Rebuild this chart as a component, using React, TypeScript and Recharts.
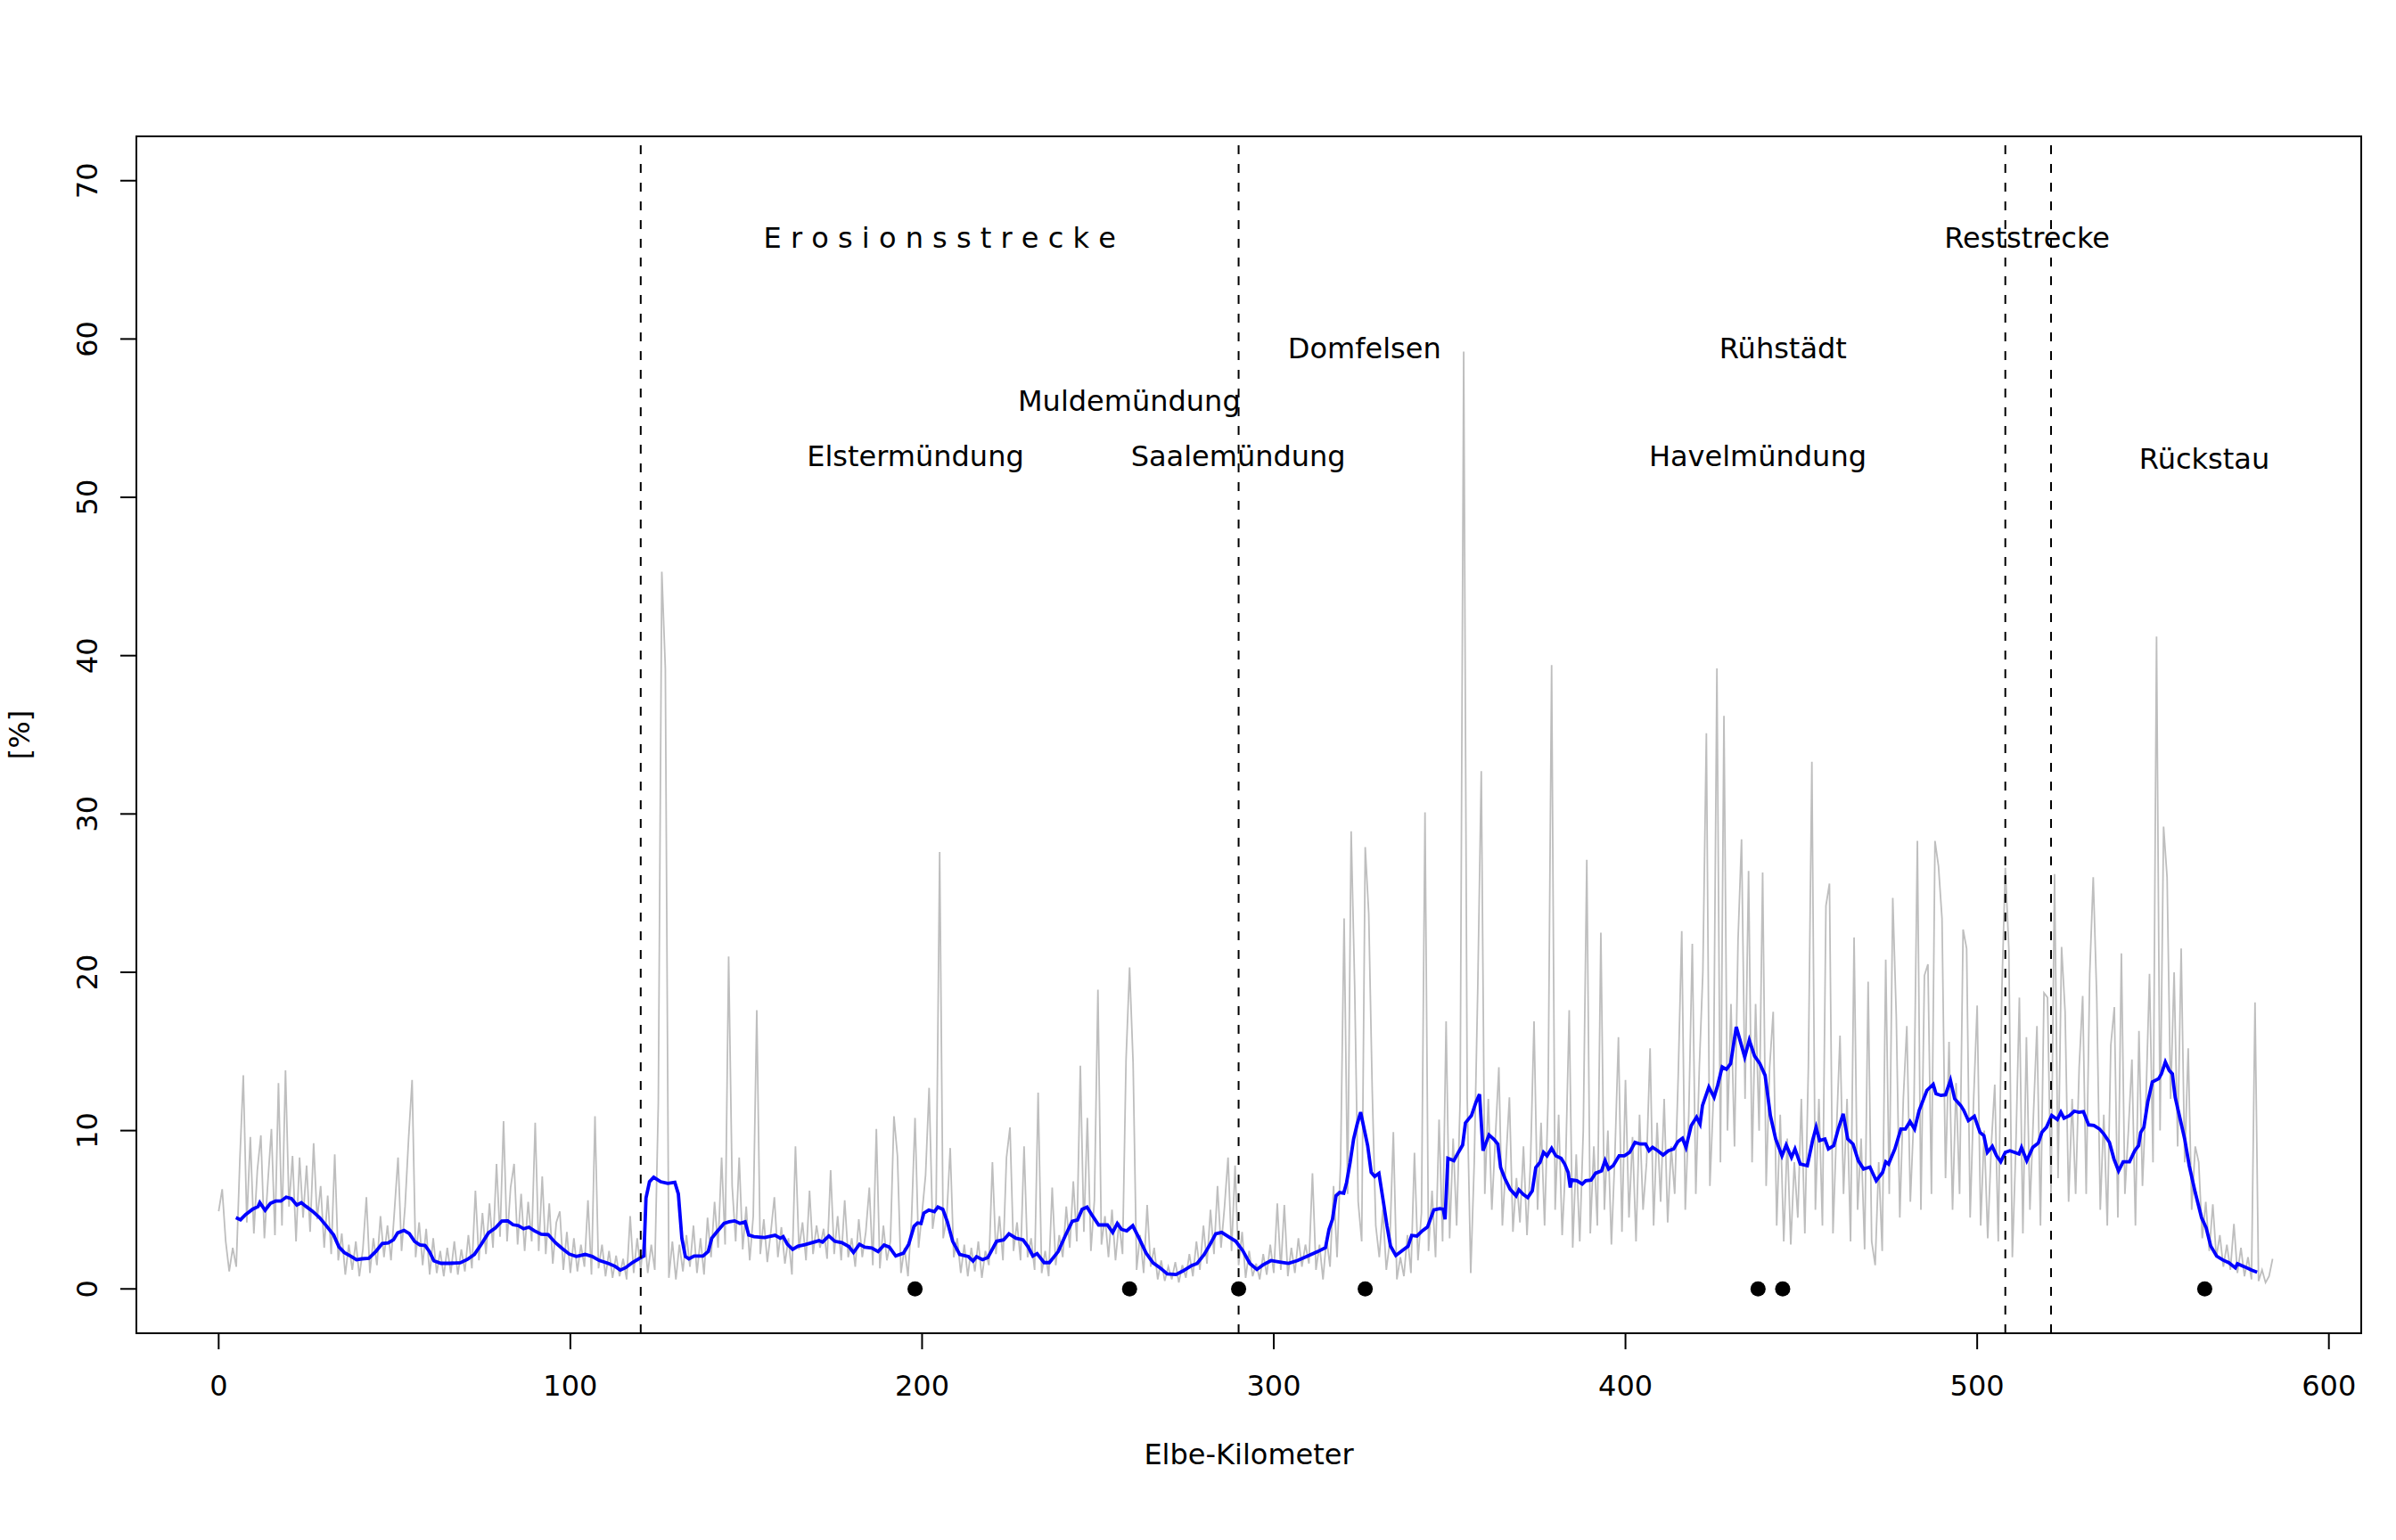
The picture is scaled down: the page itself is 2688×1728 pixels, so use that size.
import React from "react";
import { ComposedChart, Line, Scatter, XAxis, YAxis, ReferenceLine, ReferenceArea } from "recharts";

// raw share per Elbe-km (grey), one value per km starting at km 0
const grayVals = [
  4.9, 6.3, 3.0, 1.1, 2.6, 1.4, 8.0, 13.5, 4.2, 9.6,
  3.5, 7.5, 9.7, 3.2, 6.8, 10.1, 3.4, 13.0, 4.0, 13.8,
  5.2, 8.4, 3.0, 8.3, 4.5, 7.8, 3.6, 9.2, 4.4, 6.5,
  2.6, 5.9, 2.2, 8.5, 1.8, 3.5, 0.9, 2.8, 1.2, 3.0,
  0.8, 2.5, 5.8, 1.0, 3.2, 1.5, 4.6, 2.0, 4.0, 1.8,
  5.0, 8.3, 2.4, 5.2, 9.5, 13.2, 2.0, 4.2, 1.5, 3.8,
  0.9, 3.2, 1.0, 2.4, 0.8, 2.6, 1.0, 3.0, 0.9, 2.5,
  1.1, 3.4, 1.3, 6.2, 1.8, 4.8, 2.2, 5.4, 2.6, 7.9,
  3.3, 10.6, 3.0, 6.4, 7.9, 2.8, 6.0, 2.4, 5.5, 3.0,
  10.5, 2.4, 7.1, 2.2, 5.4, 1.6, 4.2, 4.9, 1.2, 3.6,
  1.0, 3.2, 1.1, 2.8, 1.4, 5.6, 0.9, 10.9, 1.3, 2.8,
  0.8, 2.4, 0.7, 2.1, 0.8, 1.9, 0.6, 4.6, 1.0, 3.2,
  1.2, 3.6, 1.0, 2.8, 1.2, 11.7, 45.3, 39.2, 0.7, 3.0,
  0.6, 2.8, 1.1, 3.4, 1.4, 4.0, 1.0, 3.2, 0.9, 4.5,
  2.0, 5.5, 2.6, 8.3, 2.8, 21.0, 6.5, 3.0, 8.3, 2.5,
  5.2, 1.8, 4.6, 17.6, 2.2, 4.4, 1.7, 3.6, 5.8, 2.0,
  3.9, 1.6, 3.2, 0.9, 9.0, 2.5, 4.2, 1.8, 6.2, 2.2,
  4.0, 2.6, 3.8, 1.9, 7.5, 2.2, 4.6, 1.8, 5.6, 2.0,
  3.2, 1.4, 4.4, 2.0, 3.6, 6.4, 1.5, 10.1, 1.3, 4.0,
  1.8, 3.0, 10.9, 8.4, 1.0, 2.6, 0.8, 4.4, 10.8, 2.6,
  4.8, 7.2, 12.7, 3.8, 5.4, 27.6, 3.2, 4.5, 8.9, 2.0,
  3.2, 1.0, 2.8, 0.8, 2.6, 1.1, 3.0, 0.7, 2.4, 1.5,
  8.0, 2.2, 4.6, 1.8, 8.3, 10.2, 2.4, 4.2, 1.8, 9.0,
  2.0, 3.2, 1.2, 12.4, 1.0, 2.4, 0.8, 6.4, 1.5, 3.4,
  2.0, 5.2, 2.6, 6.8, 3.0, 14.1, 3.6, 10.8, 2.4, 5.6,
  18.9, 2.8, 4.6, 2.0, 5.0, 1.8, 4.2, 2.2, 14.5, 20.3,
  14.3, 1.2, 3.4, 1.0, 5.3, 1.4, 2.6, 0.6, 1.8, 0.5,
  1.4, 0.6, 1.7, 0.4, 1.5, 0.7, 2.2, 0.8, 3.0, 1.2,
  4.0, 1.6, 5.0, 2.2, 6.5, 2.6, 5.2, 8.3, 2.4, 7.8,
  1.5, 3.6, 0.7, 2.4, 0.8, 1.6, 0.6, 2.2, 0.9, 2.8,
  1.0, 5.4, 1.2, 5.3, 0.8, 2.6, 1.0, 3.2, 1.4, 2.8,
  1.6, 7.3, 1.2, 2.8, 0.6, 3.2, 1.4, 6.5, 2.0, 8.0,
  23.4, 6.0, 28.9, 19.2, 5.5, 3.0, 27.9, 23.7, 12.5, 4.0,
  2.0, 5.0, 1.2, 3.0, 9.9, 0.6, 2.0, 0.8, 3.4, 1.0,
  8.6, 1.8, 4.8, 30.1, 2.4, 6.2, 2.0, 10.7, 3.0, 16.9,
  3.2, 9.5, 4.0, 12.0, 59.2, 12.0, 1.0, 8.0, 19.0, 32.7,
  6.0, 12.0, 5.0, 9.5, 14.0, 4.0, 8.0, 12.1, 3.6, 7.0,
  4.2, 9.0, 3.4, 8.0, 16.9, 5.0, 10.5, 4.0, 12.0, 39.4,
  5.0, 11.0, 3.4, 8.0, 17.6, 2.6, 8.5, 3.0, 10.0, 27.1,
  3.5, 9.0, 4.0, 22.5, 5.0, 10.0, 2.8, 8.5, 15.9, 3.6,
  13.2, 4.5, 9.6, 3.0, 11.0, 5.0, 8.0, 15.2, 4.0, 10.5,
  5.5, 12.0, 4.2, 9.0, 6.0, 13.5, 22.6, 5.0, 11.0, 21.8,
  6.0, 14.0, 20.0, 35.1, 6.5, 12.0, 39.2, 8.0, 36.2, 10.0,
  18.0, 9.0, 22.0, 28.4, 12.0, 26.4, 8.0, 18.0, 10.0, 26.3,
  6.5, 14.0, 17.5, 4.0, 11.0, 3.0, 9.5, 2.8, 8.0, 4.5,
  12.0, 3.5, 14.0, 33.3, 5.0, 12.0, 4.0, 24.2, 25.6, 3.5,
  10.0, 16.0, 6.0, 12.0, 3.0, 22.2, 5.0, 9.5, 2.5, 19.4,
  3.0, 1.5, 8.0, 2.4, 20.8, 6.0, 24.7, 17.2, 4.5, 12.0,
  16.6, 5.5, 11.0, 28.3, 5.0, 19.8, 20.5, 6.0, 28.3, 26.7,
  23.4, 7.0, 15.6, 5.0, 13.0, 6.0, 22.7, 21.5, 4.5, 12.0,
  17.9, 4.0, 10.0, 3.2, 9.0, 12.9, 3.0, 18.7, 26.6, 21.5,
  2.0, 9.0, 18.4, 3.5, 15.9, 5.0, 11.0, 16.6, 4.0, 18.7,
  18.4, 6.0, 26.2, 7.0, 21.6, 17.5, 5.5, 12.0, 6.0, 14.0,
  18.5, 6.0, 19.9, 26.0, 18.4, 5.0, 11.0, 4.0, 15.4, 17.8,
  4.5, 21.2, 6.0, 10.0, 14.5, 4.0, 16.3, 6.5, 12.0, 19.9,
  8.0, 41.2, 10.0, 29.2, 26.0, 12.0, 20.0, 9.0, 21.5, 8.0,
  15.2, 5.0, 9.0, 8.0, 3.2, 5.5, 2.4, 5.35, 2.0, 3.4,
  1.4, 2.8, 1.2, 4.1, 1.0, 2.6, 0.8, 2.0, 0.6, 18.1,
  0.5, 1.2, 0.4, 0.8, 1.9,
];

// running mean (blue): [km, value]
const bluePoints: [number, number][] = [
  [4.9, 4.5], [6.2, 4.37], [7.7, 4.7], [9.7, 5.04], [11.2, 5.2], [11.7, 5.45], [13.2, 4.97], [14.7, 5.4],
  [16.2, 5.55], [17.7, 5.55], [19.2, 5.8], [20.7, 5.7], [22.2, 5.3], [23.5, 5.45], [24.9, 5.2], [26.7, 4.9],
  [28.7, 4.5], [30.7, 3.96], [32.7, 3.4], [34.2, 2.65], [35.7, 2.3], [37.7, 2.05], [39.2, 1.84], [40.7, 1.9],
  [42.7, 1.93], [44.7, 2.37], [46.5, 2.87], [48.2, 2.9], [49.7, 3.1], [50.9, 3.54], [52.7, 3.7], [54.2, 3.49],
  [55.7, 3.0], [57.2, 2.78], [58.7, 2.74], [59.9, 2.37], [61.2, 1.77], [63.2, 1.62], [65.7, 1.62], [68.7, 1.65],
  [70.7, 1.86], [72.7, 2.18], [74.7, 2.83], [76.7, 3.54], [78.7, 3.86], [80.5, 4.28], [82.2, 4.3], [83.7, 4.05],
  [85.2, 4.0], [86.7, 3.8], [88.2, 3.9], [89.7, 3.68], [91.7, 3.45], [93.7, 3.43], [95.7, 2.93], [97.7, 2.55],
  [99.7, 2.2], [101.7, 2.05], [104.2, 2.18], [106.2, 2.05], [108.2, 1.8], [110.7, 1.62], [112.7, 1.43], [114.2, 1.19],
  [115.7, 1.34], [117.7, 1.67], [119.7, 1.93], [120.9, 2.08], [121.5, 5.74], [122.5, 6.77], [123.7, 7.05], [125.7, 6.77],
  [127.7, 6.67], [129.7, 6.73], [130.7, 6.0], [131.7, 3.2], [132.7, 2.05], [133.7, 1.9], [135.2, 2.08], [137.7, 2.08],
  [139.2, 2.37], [140.2, 3.2], [141.7, 3.62], [143.7, 4.14], [145.2, 4.24], [146.7, 4.3], [148.2, 4.14], [149.7, 4.24],
  [150.7, 3.4], [152.2, 3.3], [155.2, 3.25], [158.2, 3.39], [159.7, 3.2], [160.5, 3.3], [161.7, 2.82], [163.2, 2.5],
  [164.7, 2.7], [166.7, 2.79], [168.7, 2.92], [170.7, 3.05], [171.7, 2.96], [173.5, 3.35], [175.2, 3.01], [177.2, 2.92],
  [179.2, 2.67], [180.5, 2.3], [182.2, 2.82], [183.7, 2.64], [185.7, 2.58], [187.5, 2.36], [189.2, 2.77], [190.7, 2.64],
  [192.5, 2.08], [194.7, 2.26], [196.2, 2.82], [197.7, 3.95], [198.7, 4.17], [199.7, 4.13], [200.5, 4.79], [201.9, 4.98],
  [203.5, 4.88], [204.5, 5.17], [205.9, 5.03], [207.2, 4.23], [208.7, 3.01], [210.7, 2.17], [213.2, 2.04], [214.5, 1.76],
  [215.5, 2.04], [217.2, 1.85], [218.7, 1.98], [221.2, 3.01], [223.2, 3.1], [224.7, 3.48], [226.7, 3.2], [228.7, 3.1],
  [230.2, 2.64], [231.5, 2.08], [232.7, 2.23], [234.7, 1.66], [236.2, 1.66], [238.7, 2.36], [240.7, 3.35], [242.7, 4.27],
  [244.2, 4.36], [245.5, 5.03], [246.9, 5.17], [248.2, 4.7], [250.2, 4.04], [252.7, 4.04], [254.2, 3.57], [255.5, 4.13],
  [256.7, 3.76], [258.2, 3.67], [259.9, 3.99], [261.7, 3.2], [263.7, 2.26], [265.7, 1.64], [267.7, 1.33], [269.7, 0.95],
  [272.2, 0.91], [274.2, 1.14], [276.7, 1.48], [278.2, 1.61], [280.2, 2.17], [281.9, 2.82], [283.5, 3.48], [285.2, 3.57],
  [287.2, 3.29], [289.2, 3.01], [291.2, 2.41], [293.2, 1.61], [295.2, 1.23], [296.9, 1.51], [299.2, 1.79], [301.7, 1.7],
  [304.2, 1.61], [306.7, 1.79], [309.7, 2.08], [312.5, 2.36], [314.7, 2.6], [315.7, 3.76], [316.7, 4.4], [317.7, 5.88],
  [318.7, 6.09], [319.9, 6.05], [320.7, 6.72], [321.7, 7.99], [322.7, 9.47], [323.7, 10.4], [324.7, 11.16], [325.7, 10.1],
  [326.7, 9.05], [327.7, 7.36], [328.7, 7.1], [329.9, 7.3], [331.2, 5.45], [332.2, 3.97], [333.2, 2.7], [334.7, 2.11],
  [336.7, 2.45], [338.2, 2.7], [339.2, 3.38], [340.7, 3.34], [342.2, 3.66], [343.7, 3.91], [345.5, 4.99], [347.2, 5.07],
  [348.2, 5.03], [348.7, 4.4], [349.5, 8.25], [351.2, 8.1], [352.5, 8.63], [353.7, 9.09], [354.5, 10.49], [356.2, 10.95],
  [357.5, 11.8], [358.5, 12.3], [359.5, 8.73], [361.2, 9.73], [362.7, 9.43], [363.7, 9.15], [364.5, 7.67], [365.7, 6.98],
  [367.2, 6.3], [368.9, 5.88], [369.7, 6.26], [370.9, 5.98], [372.2, 5.77], [373.5, 6.19], [374.5, 7.67], [375.7, 7.99],
  [376.7, 8.63], [377.7, 8.41], [379.0, 8.88], [380.2, 8.41], [381.7, 8.25], [382.7, 7.89], [383.7, 7.36], [384.3, 6.41],
  [384.7, 6.89], [386.2, 6.83], [387.7, 6.62], [388.7, 6.83], [390.2, 6.87], [391.5, 7.31], [393.2, 7.46], [394.2, 8.1],
  [395.2, 7.57], [396.5, 7.78], [398.2, 8.41], [399.7, 8.41], [401.2, 8.63], [402.7, 9.26], [404.2, 9.15], [405.7, 9.15],
  [406.7, 8.73], [407.7, 8.94], [409.2, 8.73], [410.7, 8.46], [412.2, 8.73], [413.7, 8.84], [414.9, 9.3], [416.2, 9.51],
  [417.2, 8.94], [418.7, 10.32], [420.2, 10.85], [421.2, 10.42], [421.9, 11.59], [423.7, 12.75], [425.2, 12.11], [426.2, 12.85],
  [427.5, 14.02], [428.7, 13.87], [429.9, 14.23], [431.5, 16.55], [432.7, 15.6], [433.9, 14.65], [435.2, 15.71], [436.7, 14.71],
  [438.2, 14.23], [439.7, 13.49], [441.2, 10.95], [442.7, 9.47], [444.5, 8.41], [445.7, 9.09], [447.2, 8.31], [448.2, 8.84],
  [449.7, 7.89], [451.7, 7.78], [453.2, 9.37], [454.2, 10.21], [455.2, 9.37], [456.7, 9.47], [457.7, 8.84], [459.2, 9.05],
  [460.5, 10.1], [461.9, 11.06], [463.2, 9.47], [464.7, 9.15], [466.2, 8.1], [467.7, 7.57], [469.5, 7.7], [471.3, 6.83],
  [473.1, 7.36], [474.0, 8.03], [474.8, 7.89], [476.6, 8.84], [478.3, 10.1], [479.6, 10.1], [480.9, 10.57], [482.2, 10.1],
  [483.5, 11.27], [485.7, 12.54], [487.5, 12.92], [488.3, 12.33], [489.7, 12.22], [491.0, 12.26], [492.4, 13.17], [493.6, 12.01],
  [495.3, 11.59], [496.2, 11.27], [497.5, 10.63], [499.2, 10.91], [500.8, 9.89], [501.9, 9.68], [502.9, 8.63], [504.3, 9.0],
  [505.5, 8.41], [506.7, 8.03], [508.0, 8.63], [509.3, 8.73], [510.6, 8.63], [511.9, 8.52], [512.6, 8.94], [514.1, 8.1],
  [515.8, 8.94], [517.4, 9.22], [518.4, 9.89], [519.7, 10.21], [521.2, 10.95], [522.8, 10.7], [523.8, 11.16], [524.7, 10.78],
  [526.3, 10.95], [527.6, 11.23], [528.9, 11.16], [530.2, 11.2], [531.7, 10.36], [533.2, 10.32], [534.8, 10.1], [536.0, 9.79],
  [537.6, 9.26], [538.9, 8.2], [540.2, 7.46], [541.5, 8.03], [543.3, 8.03], [544.8, 8.73], [545.9, 9.05], [546.5, 9.89],
  [547.4, 10.21], [548.5, 11.8], [549.8, 13.07], [551.6, 13.28], [552.4, 13.59], [553.5, 14.33], [554.6, 13.8], [555.5, 13.59],
  [556.3, 12.11], [557.7, 10.74], [559.0, 9.47], [560.3, 7.78], [562.0, 6.09], [563.8, 4.5], [565.1, 3.87], [566.4, 2.71],
  [568.1, 2.07], [569.9, 1.82], [571.6, 1.65], [573.4, 1.33], [574.0, 1.59], [576.0, 1.4], [578.1, 1.18], [579.6, 1.06],
];

// river mouths etc. marked with black dots on the zero line
const mouthKm = [198, 259, 290, 326, 437.7, 444.7, 564.7];

// section boundaries (dashed)
const boundaryKm = [120, 290, 508, 521];

const labelText = [
  "E r o s i o n s s t r e c k e", "Reststrecke", "Domfelsen", "Rühstädt", "Muldemündung",
  "Elstermündung", "Saalemündung", "Havelmündung", "Rückstau",
];
const labelKm = [205, 514.2, 325.8, 444.8, 258.9, 198.1, 289.9, 437.6, 564.6];
const labelLevel = [66.4, 66.4, 59.4, 59.4, 56.1, 52.6, 52.6, 52.6, 52.4];

const xTicks = [0, 100, 200, 300, 400, 500, 600];
const yTicks = [0, 10, 20, 30, 40, 50, 60, 70];

const FONT = "'DejaVu Sans', sans-serif";
const FS = 32;
const X_DOMAIN: [number, number] = [-23.4, 609.2];
const Y_DOMAIN: [number, number] = [-2.8, 72.8];

const grayData = grayVals.map((v, i) => ({ km: i, v }));
const blueData = bluePoints.map(([km, v]) => ({ km, v }));
const dotData = mouthKm.map((km) => ({ km, v: 0 }));
const labelData = labelText.map((label, i) => ({ km: labelKm[i], v: labelLevel[i], label }));

function XTick(props: any) {
  const { x, y, payload } = props;
  return (
    <text x={x} y={y} textAnchor="middle" dominantBaseline="central" fontSize={FS} fontFamily={FONT} fill="#000">
      {payload.value}
    </text>
  );
}

function YTick(props: any) {
  const { x, y, payload } = props;
  return (
    <text x={x} y={y} transform={`rotate(-90 ${x} ${y})`} textAnchor="middle" dominantBaseline="central"
      fontSize={FS} fontFamily={FONT} fill="#000">
      {payload.value}
    </text>
  );
}

function XTitle(props: any) {
  const vb = props.viewBox;
  return (
    <text x={vb.x + vb.width / 2} y={vb.y + 136} textAnchor="middle" dominantBaseline="central"
      fontSize={FS} fontFamily={FONT} fill="#000">
      Elbe-Kilometer
    </text>
  );
}

function YTitle(props: any) {
  const vb = props.viewBox;
  const x = vb.x + vb.width - 131;
  const y = vb.y + vb.height / 2;
  return (
    <text x={x} y={y} transform={`rotate(-90 ${x} ${y})`} textAnchor="middle" dominantBaseline="central"
      fontSize={FS} fontFamily={FONT} fill="#000">
      [%]
    </text>
  );
}

export default function App() {
  return (
    <div style={{ position: "absolute", left: 0, top: 0, width: 2688, height: 1728, background: "#fff" }}>
      <ComposedChart width={2688} height={1728} margin={{ top: 153, right: 39, bottom: 132, left: 53 }}>
        <XAxis type="number" dataKey="km" domain={X_DOMAIN} ticks={xTicks} allowDataOverflow
          axisLine={false} tickLine={{ stroke: "#000", strokeWidth: 2 }} tickSize={18} tickMargin={41}
          tick={<XTick />} height={100} label={{ content: XTitle }} />
        <YAxis type="number" dataKey="v" domain={Y_DOMAIN} ticks={yTicks} allowDataOverflow
          axisLine={false} tickLine={{ stroke: "#000", strokeWidth: 2 }} tickSize={18} tickMargin={37}
          tick={<YTick />} width={100} label={{ content: YTitle }} />
        <Line data={grayData} dataKey="v" type="linear" stroke="#BEBEBE" strokeWidth={1.8}
          dot={false} activeDot={false} isAnimationActive={false} />
        <Line data={blueData} dataKey="v" type="linear" stroke="#0000FF" strokeWidth={3.8}
          dot={false} activeDot={false} isAnimationActive={false} />
        {boundaryKm.map((km) => (
          <ReferenceLine key={km} x={km} stroke="#000" strokeWidth={2} strokeDasharray="10 11" />
        ))}
        <Scatter data={dotData} dataKey="v" isAnimationActive={false}
          shape={(p: any) => <circle cx={p.cx} cy={p.cy} r={8.5} fill="#000" />} />
        <Scatter data={labelData} dataKey="v" isAnimationActive={false}
          shape={(p: any) => (
            <text x={p.cx} y={p.cy} textAnchor="middle" dominantBaseline="central" fontSize={FS}
              fontFamily={FONT} fill="#000">
              {p.payload.label}
            </text>
          )} />
        <ReferenceArea x1={X_DOMAIN[0]} x2={X_DOMAIN[1]} y1={Y_DOMAIN[0]} y2={Y_DOMAIN[1]}
          fill="none" fillOpacity={0} stroke="#000" strokeWidth={2} ifOverflow="visible" />
      </ComposedChart>
    </div>
  );
}
